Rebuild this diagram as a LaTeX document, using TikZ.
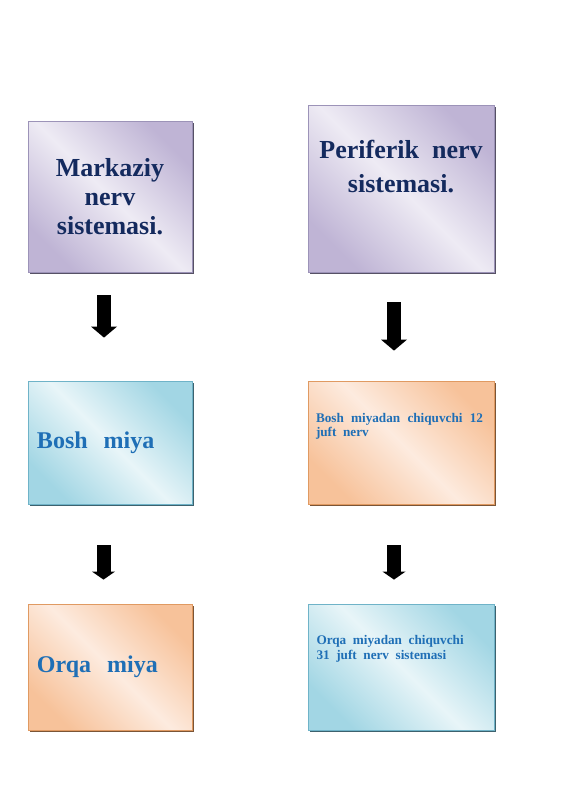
\documentclass[tikz,border=0pt]{standalone}
\usepackage{fontspec}
\setmainfont{Liberation Serif}
\usetikzlibrary{arrows.meta,shadows}
\definecolor{navytext}{HTML}{142A5E}
\definecolor{bluetext}{HTML}{1F6FB6}
\definecolor{lilacdark}{HTML}{BFB4D5}
\definecolor{lilaclight}{HTML}{EEEBF4}
\definecolor{lilacedge}{HTML}{9C93B8}
\definecolor{skydark}{HTML}{A2D6E4}
\definecolor{skylight}{HTML}{E8F5F8}
\definecolor{skyedge}{HTML}{6FB3C8}
\definecolor{peachdark}{HTML}{F7C29A}
\definecolor{peachlight}{HTML}{FDEBDF}
\definecolor{peachedge}{HTML}{E09A62}

\begin{document}
\begin{tikzpicture}[x=0.5pt,y=-0.5pt,
		panel/.style={draw=#1, line width=0.4pt, inner sep=0pt, drop shadow={shadow xshift=1pt, shadow yshift=-1pt, fill=#1!55!black, opacity=1}},
		lilac/.style={panel=lilacedge, left color=lilacdark, right color=lilacdark, middle color=lilaclight, shading angle=135},
		sky/.style={panel=skyedge, left color=skydark, right color=skydark, middle color=skylight, shading angle=135},
		peach/.style={panel=peachedge, left color=peachdark, right color=peachdark, middle color=peachlight, shading angle=135},
		bigtitle/.style={font=\bfseries\fontsize{13}{14.5}\selectfont, text=navytext},
		midtitle/.style={font=\bfseries\fontsize{12}{14}\selectfont, text=bluetext, inner xsep=4.5pt, text width=73pt, align=left},
		smalltext/.style={font=\bfseries\fontsize{6.6}{7.5}\selectfont, text=bluetext, inner sep=0pt, anchor=north west},
		bigdown/.style={line width=7pt, -{Triangle[width=13pt,length=5.5pt,line width=0pt]}},
		smalldown/.style={line width=7pt, -{Triangle[width=11.5pt,length=4pt,line width=0pt]}}]
	\useasboundingbox (0,0) rectangle (565,800);

	\node[lilac, bigtitle, minimum width=82pt, minimum height=75.5pt, align=center] (mark) at (110,196.5) {Markaziy\\nerv\\sistemasi.};
	\node[lilac, minimum width=93pt, minimum height=83.5pt] (peri) at (401,188.5) {};
	\node[bigtitle, font=\bfseries\fontsize{13}{17}\selectfont, anchor=north, inner sep=0pt, align=center] (peritxt) at ([yshift=-17.5pt]peri.north) {Periferik~~nerv\\sistemasi.};

	\node[sky, midtitle, minimum width=82pt, minimum height=61.5pt] (bosh) at (110,442.5) {Bosh~~miya};
	\node[peach, minimum width=93pt, minimum height=61.5pt] (boshn) at (401,442.5) {};
	\node[smalltext, text width=83.5pt, align=justify, font=\bfseries\fontsize{6.6}{7.2}\selectfont] (boshntxt) at ([xshift=4pt,yshift=-16pt]boshn.north west) {Bosh~~miyadan~~chiquvchi~~12 juft~~nerv};

	\node[peach, midtitle, minimum width=82pt, minimum height=63pt] (orqa) at (110,667) {Orqa~~miya};
	\node[sky, minimum width=93pt, minimum height=63pt] (orqan) at (401,667) {};
	\node[smalltext, align=left] (orqantxt) at ([xshift=4.25pt,yshift=-15.5pt]orqan.north west) {Orqa~~miyadan~~chiquvchi\\31~~juft~~nerv~~sistemasi};

	\draw[bigdown, shorten <=11.5pt, shorten >=21.5pt] ([xshift=-3pt]mark.south) -- ([xshift=-3pt]bosh.north);
	\draw[bigdown, shorten <=15pt, shorten >=15pt] ([xshift=-3.5pt]peri.south) -- ([xshift=-3.5pt]boshn.north);
	\draw[smalldown, shorten <=20.5pt, shorten >=12pt] ([xshift=-3.25pt]bosh.south) -- ([xshift=-3.25pt]orqa.north);
	\draw[smalldown, shorten <=20.5pt, shorten >=12pt] ([xshift=-3.5pt]boshn.south) -- ([xshift=-3.5pt]orqan.north);
\end{tikzpicture}
\end{document}
